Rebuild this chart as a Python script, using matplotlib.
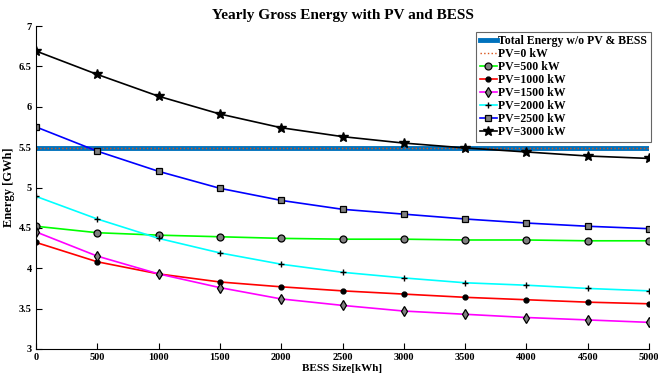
import numpy as np
import matplotlib.pyplot as plt

plt.rcParams['font.family'] = ['Liberation Serif', 'DejaVu Serif']
plt.rcParams['font.weight'] = 'bold'

# BESS sizes (kWh) and yearly gross energy (GWh) per PV size
bess = [0, 500, 1000, 1500, 2000, 2500, 3000, 3500, 4000, 4500, 5000]
total_wo = 5.49
pv0 = [5.49] * 11
pv500 = [4.52, 4.44, 4.41, 4.39, 4.37, 4.36, 4.36, 4.35, 4.35, 4.34, 4.34]
pv1000 = [4.32, 4.08, 3.93, 3.83, 3.77, 3.72, 3.68, 3.64, 3.61, 3.58, 3.56]
pv1500 = [4.45, 4.15, 3.93, 3.76, 3.62, 3.54, 3.47, 3.43, 3.39, 3.36, 3.33]
pv2000 = [4.89, 4.61, 4.37, 4.19, 4.05, 3.95, 3.88, 3.82, 3.79, 3.75, 3.72]
pv2500 = [5.75, 5.45, 5.20, 4.99, 4.84, 4.73, 4.67, 4.61, 4.56, 4.52, 4.49]
pv3000 = [6.69, 6.40, 6.13, 5.91, 5.74, 5.63, 5.55, 5.49, 5.44, 5.39, 5.36]

fig = plt.figure(figsize=(6.58, 3.81), dpi=100)
ax = fig.add_axes([36/658, 1-349/381, (649-36)/658, (349-26)/381])

ax.plot([bess[0], bess[-1]], [total_wo, total_wo], color='#0072BD', lw=3.5,
        label='Total Energy w/o PV & BESS')
ax.plot(bess, pv0, color='#D95319', lw=1, ls=':', label='PV=0 kW')

gray = '#808080'
lw = 1.2
ax.plot(bess, pv500, color='#00FF00', lw=lw, marker='o', ms=5,
        mfc=gray, mec='k', mew=0.9, label='PV=500 kW')
ax.plot(bess, pv1000, color='#FF0000', lw=lw, marker='o', ms=3.5,
        mfc='k', mec='k', label='PV=1000 kW')
ax.plot(bess, pv1500, color='#FF00FF', lw=lw, marker='d', ms=5,
        mfc=gray, mec='k', mew=0.9, label='PV=1500 kW')
ax.plot(bess, pv2000, color='#00FFFF', lw=lw, marker='+', ms=5,
        mec='k', mew=1, label='PV=2000 kW')
ax.plot(bess, pv2500, color='#0000FF', lw=lw, marker='s', ms=4,
        mfc=gray, mec='k', mew=0.9, label='PV=2500 kW')
ax.plot(bess, pv3000, color='k', lw=lw, marker='*', ms=7,
        mfc='k', mec='k', label='PV=3000 kW')

ax.set_xlim(0, 5000)
ax.set_ylim(3, 7)
ax.set_xticks(np.arange(0, 5001, 500))
ax.set_yticks(np.arange(3, 7.01, 0.5))
ax.set_yticklabels(['3', '3.5', '4', '4.5', '5', '5.5', '6', '6.5', '7'])
ax.tick_params(direction='in', labelsize=7.5, length=4, width=0.8, pad=3)
ax.spines['top'].set_visible(False)
ax.spines['right'].set_visible(False)

ax.set_title('Yearly Gross Energy with PV and BESS', fontsize=11,
             fontweight='bold', pad=5)
ax.set_xlabel('BESS Size[kWh]', fontsize=8, fontweight='bold', labelpad=1)
ax.set_ylabel('Energy [GWh]', fontsize=9, fontweight='bold', labelpad=3)

leg = ax.legend(loc='upper right', bbox_to_anchor=(1.003, 0.982), fontsize=8.5,
                frameon=True, fancybox=False, edgecolor='#404040',
                handlelength=1.5, handletextpad=0.1, labelspacing=0.08,
                borderpad=0.3, borderaxespad=0)
leg.get_frame().set_linewidth(0.8)

fig.savefig('out.png', dpi=100)
